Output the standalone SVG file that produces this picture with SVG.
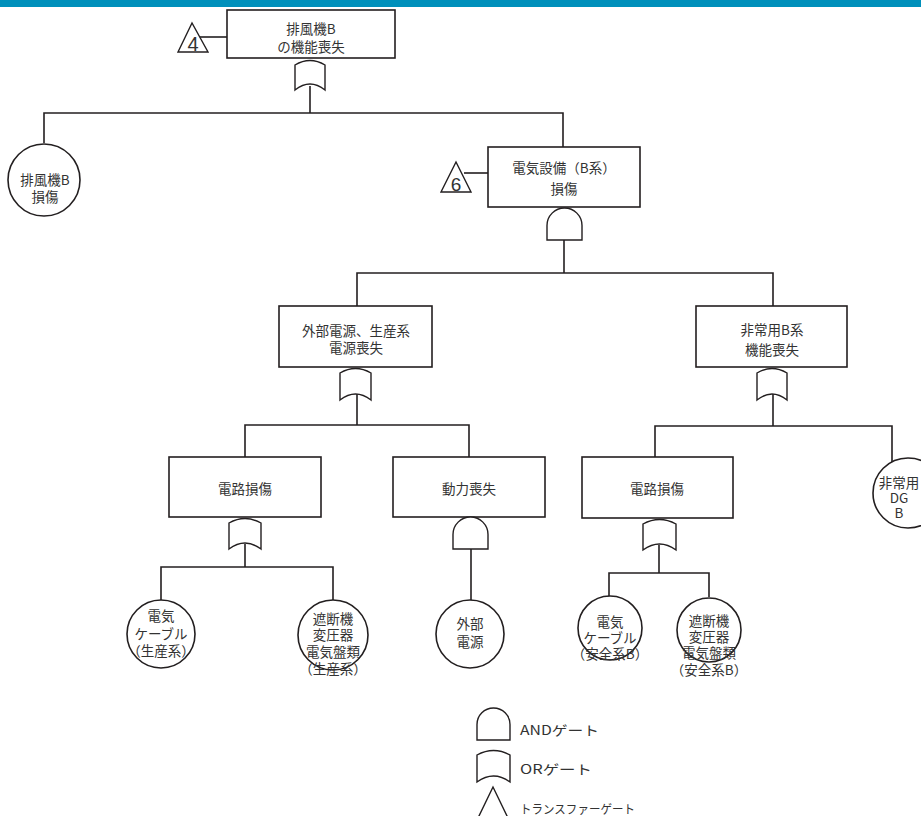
<svg xmlns="http://www.w3.org/2000/svg" width="921" height="816" viewBox="0 0 921 816">
<style>
.b{fill:#fff;stroke:#231f20;stroke-width:1.6}
.g{fill:#fff;stroke:#231f20;stroke-width:1.4}
.c line,.c polyline{fill:none;stroke:#231f20;stroke-width:1.6}
text{font-family:"Noto Sans CJK JP","Noto Sans",sans-serif;font-size:13.5px;fill:#333;text-anchor:middle;dominant-baseline:central}
.n{font-family:"Liberation Sans",Arial,sans-serif;font-size:18px;dominant-baseline:auto}
.l{font-size:13px;text-anchor:start}
</style>
<rect x="0" y="0" width="921" height="7" fill="#0090bb"/>
<g class="c" id="connectors">
<line x1="200" y1="37" x2="227" y2="37"/>
<line x1="464" y1="173" x2="488" y2="173"/>
<line x1="310" y1="86" x2="310" y2="113"/>
<polyline points="44,143 44,113 563,113 563,147"/>
<line x1="564" y1="240" x2="564" y2="273"/>
<polyline points="357,306 357,273 773,273 773,306"/>
<line x1="357" y1="394" x2="357" y2="425"/>
<polyline points="245,457 245,425 469,425 469,457"/>
<line x1="773" y1="394" x2="773" y2="426"/>
<polyline points="655,457 655,426 892,426 892,463"/>
<line x1="245" y1="544" x2="245" y2="567"/>
<polyline points="161,600 161,567 333,567 333,600"/>
<line x1="471" y1="549" x2="471" y2="600"/>
<line x1="659" y1="545" x2="659" y2="573"/>
<polyline points="609,597 609,573 709,573 709,597"/>
</g>
<g id="top">
<rect class="b" x="227" y="10" width="168" height="48"/>
<text x="311" y="28">排風機B<tspan x="311" dy="18">の機能喪失</tspan></text>
<path class="g" d="M295,65 Q310,56 325,65 L325,90 Q310,78 295,90 Z"/>
</g>
<g id="tr4">
<polygon class="g" points="192,23 178,52 208,52"/>
<text class="n" x="193" y="51" style="font-size:20px">4</text>
</g>
<g id="fanB">
<circle class="b" cx="44" cy="180" r="36"/>
<text x="45" y="179">排風機B<tspan x="45" dy="17">損傷</tspan></text>
</g>
<g id="elec">
<rect class="b" x="488" y="147" width="152" height="60"/>
<text x="564" y="167">電気設備（B系）<tspan x="564" dy="21">損傷</tspan></text>
<path class="g" d="M547,240 L547,225.5 A17.5,17.5 0 0 1 582,225.5 L582,240 Z"/>
</g>
<g id="tr6">
<polygon class="g" points="456,162 441,192 471,192"/>
<text class="n" x="456" y="191" style="font-size:19px">6</text>
</g>
<g id="extpow">
<rect class="b" x="279" y="306" width="153" height="61"/>
<text x="356" y="330">外部電源、生産系<tspan x="356" dy="17">電源喪失</tspan></text>
<path class="g" d="M340,373 Q355.5,364 371,373 L371,400 Q355.5,388 340,400 Z"/>
</g>
<g id="emerg">
<rect class="b" x="696" y="306" width="151" height="61"/>
<text x="772" y="329">非常用B系<tspan x="772" dy="20">機能喪失</tspan></text>
<path class="g" d="M757,373 Q772,364 787,373 L787,400 Q772,388 757,400 Z"/>
</g>
<g id="dgB">
<circle class="b" cx="908" cy="493" r="35"/>
<text x="899" y="482">非常用<tspan x="899" dy="15">DG</tspan><tspan x="899" dy="15">B</tspan></text>
</g>
<g id="circuit1">
<rect class="b" x="169" y="457" width="152" height="60"/>
<text x="245" y="488">電路損傷</text>
<path class="g" d="M229,523 Q245,514 261,523 L261,549 Q245,537 229,549 Z"/>
</g>
<g id="power">
<rect class="b" x="393" y="457" width="152" height="60"/>
<text x="469" y="488">動力喪失</text>
<path class="g" d="M453,549 L453,534.5 A17.5,17.5 0 0 1 488,534.5 L488,549 Z"/>
</g>
<g id="circuit2">
<rect class="b" x="582" y="457" width="151" height="61"/>
<text x="657" y="488">電路損傷</text>
<path class="g" d="M643,524 Q659.5,515 676,524 L676,550 Q659.5,538 643,550 Z"/>
</g>
<g id="cable1">
<circle class="b" cx="161" cy="634" r="34"/>
<text x="161" y="615">電気<tspan x="161" dy="18">ケーブル</tspan><tspan x="161" dy="17">（生産系）</tspan></text>
</g>
<g id="breaker1">
<circle class="b" cx="333" cy="635" r="35"/>
<text x="333" y="618">遮断機<tspan x="333" dy="16">変圧器</tspan><tspan x="333" dy="17">電気盤類</tspan><tspan x="333" dy="17">（生産系）</tspan></text>
</g>
<g id="ext">
<circle class="b" cx="470" cy="634" r="34"/>
<text x="470" y="623">外部<tspan x="470" dy="18">電源</tspan></text>
</g>
<g id="cable2">
<circle class="b" cx="610" cy="628" r="32"/>
<text x="610" y="621">電気<tspan x="610" dy="16">ケーブル</tspan><tspan x="610" dy="16">（安全系B）</tspan></text>
</g>
<g id="breaker2">
<circle class="b" cx="709" cy="630" r="32"/>
<text x="709" y="620">遮断機<tspan x="709" dy="16">変圧器</tspan><tspan x="709" dy="16">電気盤類</tspan><tspan x="709" dy="17">（安全系B）</tspan></text>
</g>
<g id="legend">
<path class="g" d="M477,740 L477,724.5 A16.5,16.5 0 0 1 510,724.5 L510,740 Z"/>
<text class="l" x="520" y="729" textLength="79" lengthAdjust="spacingAndGlyphs">ANDゲート</text>
<path class="g" d="M477,755 Q493.5,746 510,755 L510,782 Q493.5,770 477,782 Z"/>
<text class="l" x="520" y="768" textLength="72" lengthAdjust="spacingAndGlyphs">ORゲート</text>
<polygon class="g" points="493,787 478,818 508,818"/>
<text class="l" x="520" y="808" style="font-size:12px" textLength="115" lengthAdjust="spacingAndGlyphs">トランスファーゲート</text>
</g>
</svg>
